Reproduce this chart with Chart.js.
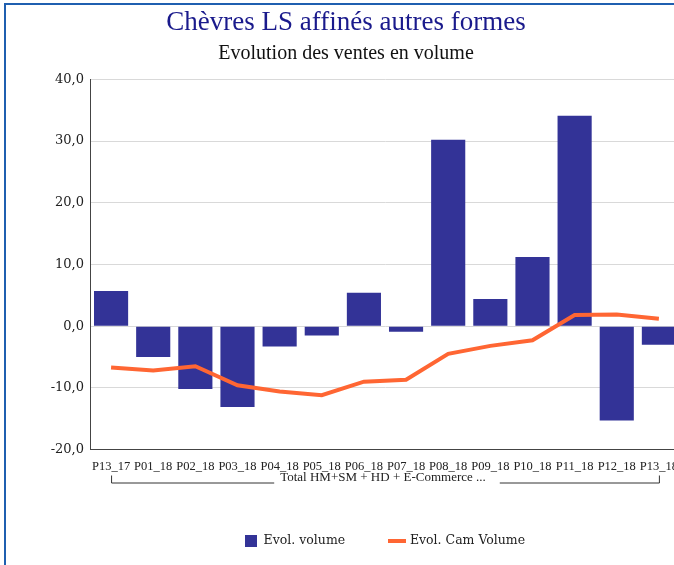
<!DOCTYPE html>
<html>
<head>
<meta charset="utf-8">
<script src="https://cdn.jsdelivr.net/npm/chart.js@4"></script>
<style>
  html, body { margin: 0; padding: 0; overflow: hidden; background: #fff; }
  #frame {
    position: absolute; left: 4px; top: 3px; width: 680px; height: 570px;
    border-top: 2px solid #1f5fb0; border-left: 2px solid #1f5fb0;
  }
  #wrap { position: absolute; left: 0; top: 0; width: 674px; height: 560px; }
</style>
</head>
<body>
<div id="frame"><div id="wrap"><canvas id="vol_chart"></canvas></div></div>
<script>
const periods = ['P13_17', 'P01_18', 'P02_18', 'P03_18', 'P04_18', 'P05_18', 'P06_18',
                 'P07_18', 'P08_18', 'P09_18', 'P10_18', 'P11_18', 'P12_18', 'P13_18'];
const evolVolume = [5.7, -5.0, -10.2, -13.1, -3.3, -1.5, 5.4, -0.9, 30.2, 4.4, 11.2, 34.1, -15.3, -3.0];
const evolCamVolume = [-6.7, -7.2, -6.5, -9.6, -10.6, -11.2, -9.0, -8.7, -4.5, -3.2, -2.3, 1.8, 1.9, 1.2];
const groupLabel = 'Total HM+SM + HD + E-Commerce ...';

const barColor = '#333397';
const lineColor = '#ff6633';

// little legend markers
function marker(w, h, color) {
    const c = document.createElement('canvas');
    c.width = w; c.height = h;
    const g = c.getContext('2d');
    g.fillStyle = color;
    g.fillRect(0, 0, w, h);
    return c;
}
const barMarker = marker(12, 12, barColor);
const lineMarker = marker(18, 4, lineColor);

// bracket under the category labels
const groupBracket = {
    id: 'groupBracket',
    afterDraw(chart) {
        const xs = chart.scales.x;
        const ctx = chart.ctx;
        const x0 = xs.getPixelForValue(0);
        const x1 = xs.getPixelForValue(periods.length - 1);
        const y = xs.top + 33;
        const mid = (xs.left + xs.right) / 2;
        ctx.save();
        ctx.font = '13px "Liberation Serif"';
        const tw = ctx.measureText(groupLabel).width;
        ctx.strokeStyle = '#333';
        ctx.lineWidth = 1;
        ctx.beginPath();
        ctx.moveTo(x0 + 0.5, y - 7);
        ctx.lineTo(x0 + 0.5, y + 0.5);
        ctx.lineTo(mid - tw / 2 - 8, y + 0.5);
        ctx.moveTo(mid + tw / 2 + 12, y + 0.5);
        ctx.lineTo(x1 + 0.5, y + 0.5);
        ctx.lineTo(x1 + 0.5, y - 7);
        ctx.stroke();
        ctx.fillStyle = '#222';
        ctx.textAlign = 'center';
        ctx.textBaseline = 'middle';
        ctx.fillText(groupLabel, mid - 2, y - 5);
        ctx.restore();
    }
};

function initializeChart() {
    const ctx = document.getElementById('vol_chart').getContext('2d');
    new Chart(ctx, {
        type: 'bar',
        data: {
            labels: periods,
            datasets: [
                {
                    type: 'line',
                    label: 'Evol. Cam Volume',
                    data: evolCamVolume,
                    borderColor: lineColor,
                    backgroundColor: lineColor,
                    borderWidth: 4,
                    pointRadius: 0,
                    tension: 0,
                    pointStyle: lineMarker,
                    order: 0
                },
                {
                    label: 'Evol. volume',
                    data: evolVolume,
                    backgroundColor: barColor,
                    barPercentage: 0.81,
                    categoryPercentage: 1.0,
                    pointStyle: barMarker,
                    order: 1
                }
            ]
        },
        options: {
            responsive: true,
            maintainAspectRatio: false,
            animation: false,
            layout: { padding: { left: 0, right: -6, top: 0, bottom: 8 } },
            scales: {
                x: {
                    grid: { display: false },
                    border: { color: '#444', width: 1 },
                    ticks: {
                        color: '#222',
                        maxRotation: 0,
                        autoSkip: false,
                        padding: 2,
                        font: { family: 'Liberation Serif', size: 12.5 }
                    },
                    afterFit(scale) { scale.height += 12; }
                },
                y: {
                    min: -20,
                    max: 40,
                    grid: { color: '#d9d9d9', drawTicks: false },
                    border: { color: '#444', width: 1 },
                    ticks: {
                        stepSize: 10,
                        color: '#222',
                        padding: 6,
                        font: { family: 'DejaVu Serif', size: 13 },
                        callback: v => v.toFixed(1).replace('.', ',')
                    },
                    afterFit(scale) { scale.width = 84; }
                }
            },
            plugins: {
                title: {
                    display: true,
                    text: 'Chèvres LS affinés autres formes',
                    color: '#1a1a8c',
                    font: { family: 'Liberation Serif', size: 27, weight: 'normal' },
                    padding: { top: 2, bottom: 2 }
                },
                subtitle: {
                    display: true,
                    text: 'Evolution des ventes en volume',
                    color: '#111',
                    font: { family: 'Liberation Serif', size: 20 },
                    padding: { top: 0, bottom: 14 }
                },
                legend: {
                    position: 'bottom',
                    fullSize: false,
                    reverse: true,
                    labels: {
                        usePointStyle: true,
                        color: '#222',
                        padding: 46,
                        font: { family: 'DejaVu Serif', size: 12.5 }
                    }
                },
                tooltip: { enabled: false }
            }
        },
        plugins: [groupBracket]
    });
}

document.addEventListener('DOMContentLoaded', initializeChart);
</script>
</body>
</html>
